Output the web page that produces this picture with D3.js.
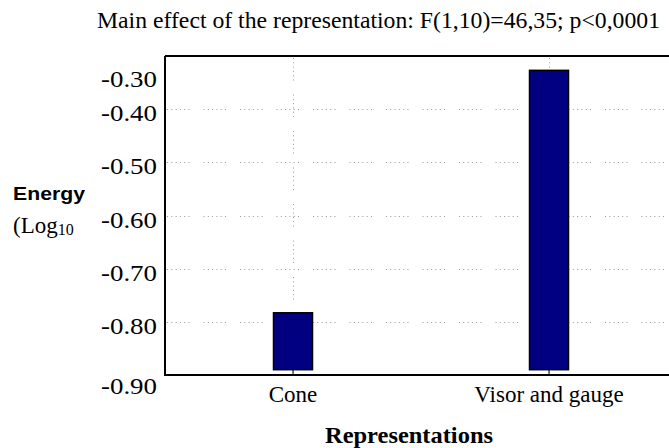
<!DOCTYPE html>
<html>
<head>
<meta charset="utf-8">
<script src="https://cdn.jsdelivr.net/npm/d3@7"></script>
<style>
  html, body { margin: 0; padding: 0; background: #fff; }
  svg { display: block; }
</style>
</head>
<body>
<svg id="chart" width="669" height="448"></svg>
<script>
// Energy by representation (log10 means)
const categories = ['Cone', 'Visor and gauge'];
const energyMeans = [-0.783, -0.327];
const yTicks = [-0.90, -0.80, -0.70, -0.60, -0.50, -0.40, -0.30];
const yDomain = [-0.90, -0.30];
const barBase = -0.89;
const title = 'Main effect of the representation: F(1,10)=46,35; p<0,0001';

(function() {
  const svg = d3.select('#chart');
  const W = 669;
  const margin = {top: 56, left: 165, bottom: 375};
  const serif = '"Liberation Serif", "Times New Roman", serif';

  const x = d3.scaleBand().domain(categories).range([margin.left, margin.left + 512]).padding(0);
  const y = d3.scaleLinear().domain(yDomain).range([margin.bottom, margin.top]);
  const barW = 39;
  const dots = '1,3.3,1,3.3,1,3.3,1,3.3,1,3.3,1,14';

  // title
  svg.append('text')
    .attr('x', 97).attr('y', 28)
    .attr('font-family', serif).attr('font-size', 23)
    .attr('textLength', 563).attr('lengthAdjust', 'spacingAndGlyphs')
    .text(title);

  // grid
  const grid = svg.append('g').attr('stroke', '#9a9a9a').attr('stroke-width', 1).attr('stroke-dasharray', dots);
  grid.selectAll('line.h')
    .data(yTicks.filter(d => d > yDomain[0] && d < yDomain[1]))
    .enter().append('line')
    .attr('x1', margin.left + 2).attr('x2', W)
    .attr('y1', d => Math.round(y(d)) + 0.5).attr('y2', d => Math.round(y(d)) + 0.5);
  grid.selectAll('line.v')
    .data(categories)
    .enter().append('line')
    .attr('x1', d => Math.round(x(d) + x.bandwidth() / 2) + 0.5)
    .attr('x2', d => Math.round(x(d) + x.bandwidth() / 2) + 0.5)
    .attr('y1', margin.top + 2).attr('y2', margin.bottom);

  // bars
  svg.append('g').selectAll('rect')
    .data(categories)
    .enter().append('rect')
    .attr('x', d => x(d) + x.bandwidth() / 2 - barW / 2)
    .attr('y', (d, i) => y(energyMeans[i]))
    .attr('width', barW)
    .attr('height', (d, i) => y(barBase) - y(energyMeans[i]))
    .attr('fill', '#000080')
    .attr('stroke', '#000')
    .attr('stroke-width', 1.5);

  // y axis labels
  const yAxis = svg.append('g')
    .attr('transform', `translate(${margin.left},0)`)
    .call(d3.axisLeft(y).tickValues(yTicks).tickSize(0).tickPadding(8).tickFormat(d => d.toFixed(2)));
  yAxis.select('.domain').remove();
  yAxis.selectAll('text')
    .attr('font-family', serif).attr('font-size', 24).attr('fill', '#000')
    .attr('textLength', 56).attr('lengthAdjust', 'spacingAndGlyphs')
    .attr('dy', d => d === yDomain[1] ? '1.25em' : (d === yDomain[0] ? '0.75em' : '0.48em'));

  // x axis
  const xAxis = svg.append('g')
    .attr('transform', `translate(0,${margin.bottom})`)
    .call(d3.axisBottom(x).tickSize(-5).tickPadding(11));
  xAxis.select('.domain').remove();
  xAxis.selectAll('line').attr('stroke', '#000').attr('stroke-width', 1);
  xAxis.selectAll('text')
    .attr('font-family', serif).attr('font-size', 23).attr('fill', '#000');

  // frame lines
  const frame = svg.append('g').attr('stroke', '#000').attr('stroke-width', 2);
  frame.append('line').attr('x1', margin.left).attr('x2', margin.left).attr('y1', margin.top).attr('y2', margin.bottom + 1);
  frame.append('line').attr('x1', margin.left).attr('x2', W).attr('y1', margin.bottom).attr('y2', margin.bottom);
  frame.append('line').attr('x1', margin.left).attr('x2', W).attr('y1', margin.top).attr('y2', margin.top);

  // axis titles
  svg.append('text')
    .attr('x', 13).attr('y', 199.5)
    .attr('font-family', '"Liberation Sans", Arial, sans-serif')
    .attr('font-weight', 'bold').attr('font-size', 19)
    .attr('textLength', 72).attr('lengthAdjust', 'spacingAndGlyphs')
    .text('Energy');
  const logLabel = svg.append('text')
    .attr('x', 13).attr('y', 232.5)
    .attr('font-family', serif).attr('font-size', 23);
  logLabel.append('tspan').text('(Log');
  logLabel.append('tspan').attr('font-size', 16).attr('dy', 2.5).text('10');

  svg.append('text')
    .attr('x', 409).attr('y', 442.5)
    .attr('text-anchor', 'middle')
    .attr('font-family', serif).attr('font-weight', 'bold').attr('font-size', 23)
    .attr('textLength', 168).attr('lengthAdjust', 'spacingAndGlyphs')
    .text('Representations');
})();
</script>
</body>
</html>
